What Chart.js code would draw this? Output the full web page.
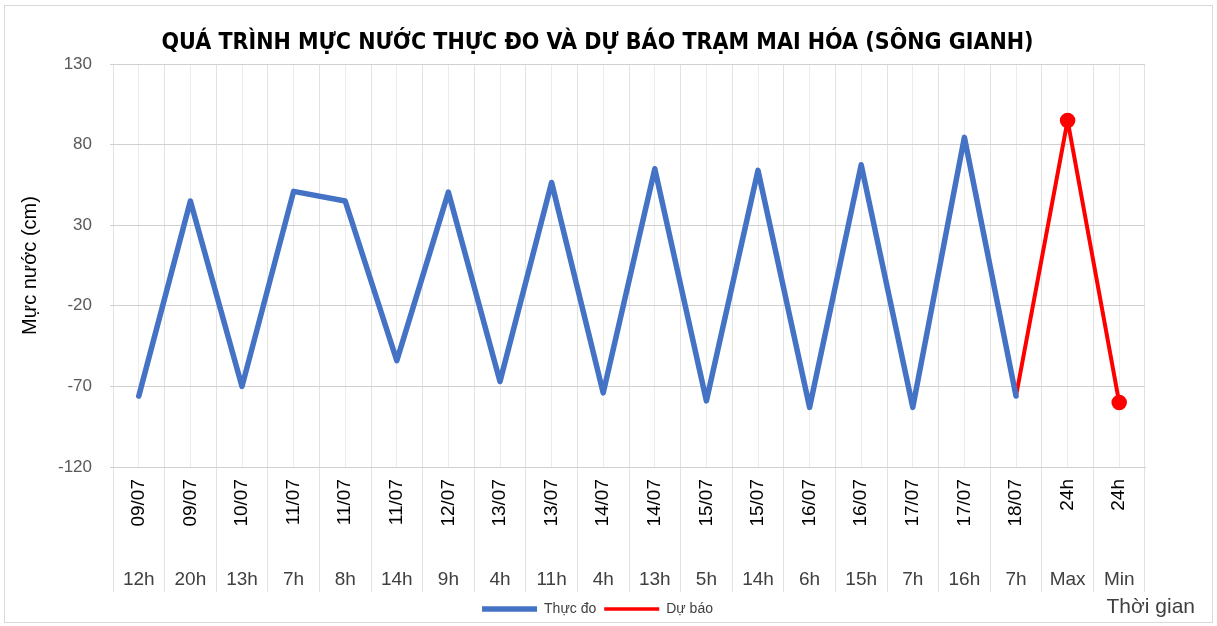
<!DOCTYPE html>
<html>
<head>
<meta charset="utf-8">
<script src="https://cdn.jsdelivr.net/npm/chart.js@4.4.1/dist/chart.umd.min.js"></script>
<style>
  html, body { margin: 0; padding: 0; background: #ffffff; }
  #wrap { position: relative; width: 1217px; height: 626px; }
  #frame { position: absolute; left: 4px; top: 5px; right: 4px; bottom: 3px; border: 1px solid #d9d9d9; }
  canvas { position: absolute; left: 0; top: 0; }
</style>
</head>
<body>
<div id="wrap">
  <div id="frame"></div>
  <canvas id="c" width="1217" height="626"></canvas>
</div>
<script>
// ---- data ----
const dateLabels = ['09/07','09/07','10/07','11/07','11/07','11/07','12/07','13/07','13/07','14/07','14/07','15/07','15/07','16/07','16/07','17/07','17/07','18/07','24h','24h'];
const hourLabels = ['12h','20h','13h','7h','8h','14h','9h','4h','11h','4h','13h','5h','14h','6h','15h','7h','16h','7h','Max','Min'];
const thucDo = [-76, 45, -70, 51, 45, -54, 50.5, -67, 56.5, -74, 65, -79, 64, -83, 67.5, -83, 84.5, -76, null, null];
const duBao  = [null, null, null, null, null, null, null, null, null, null, null, null, null, null, null, null, null, -76, 95, -80];
const yTicks = [-120, -70, -20, 30, 80, 130];

const FONT = '"Liberation Sans", Arial, sans-serif';
const TXT = '#595959';

new Chart(document.getElementById('c'), {
  type: 'line',
  data: {
    labels: dateLabels,
    datasets: [
      {
        label: 'Thực đo',
        data: thucDo,
        borderColor: '#4472C4',
        backgroundColor: '#4472C4',
        borderWidth: 5.5,
        pointRadius: 0,
        pointHoverRadius: 0,
        pointBorderWidth: 5.5,
        pointBorderColor: '#4472C4',
        borderJoinStyle: 'round',
        borderCapStyle: 'round',
        tension: 0,
        xAxisID: 'x',
        yAxisID: 'y'
      },
      {
        label: 'Dự báo',
        data: duBao,
        borderColor: '#FF0000',
        backgroundColor: '#FF0000',
        borderWidth: 4,
        pointRadius: duBao.map((v, i) => (i >= 18 ? 6 : 0)),
        pointHoverRadius: 0,
        pointBackgroundColor: '#FF0000',
        pointBorderColor: '#FF0000',
        pointBorderWidth: 3.5,
        borderJoinStyle: 'round',
        borderCapStyle: 'round',
        tension: 0,
        xAxisID: 'x',
        yAxisID: 'y'
      }
    ]
  },
  options: {
    responsive: false,
    animation: false,
    devicePixelRatio: 1,
    layout: { padding: { left: 0, right: 22, top: 0, bottom: 0 } },
    plugins: {
      tooltip: { enabled: false },
      title: {
        display: true,
        text: 'QUÁ TRÌNH MỰC NƯỚC THỰC ĐO VÀ DỰ BÁO TRẠM MAI HÓA (SÔNG GIANH)',
        color: '#000000',
        font: { family: '"Liberation Sans Narrow", "DejaVu Sans Condensed", sans-serif', size: 23, weight: 'bold' },
        padding: { top: 29, bottom: 7.4 }
      },
      legend: {
        display: true,
        position: 'bottom',
        labels: {
          usePointStyle: true,
          pointStyle: 'line',
          pointStyleWidth: 55,
          boxHeight: 6,
          color: '#404040',
          font: { family: FONT, size: 14 },
          padding: 8
        }
      },
      subtitle: {
        display: true,
        position: 'bottom',
        align: 'end',
        text: 'Thời gian',
        color: '#404040',
        font: { family: FONT, size: 21 },
        padding: { top: -31, bottom: 5.8 }
      }
    },
    scales: {
      x: {
        type: 'category',
        position: 'bottom',
        offset: true,
        afterFit: (s) => { s.height = 65; },
        grid: {
          offset: true,
          display: true,
          drawOnChartArea: true,
          drawTicks: true,
          tickLength: 125,
          color: '#e2e2e2',
          lineWidth: 1
        },
        border: { display: true, color: '#d0d0d0' },
        ticks: {
          autoSkip: false,
          minRotation: 90,
          maxRotation: 90,
          padding: -113,
          color: '#000000',
          font: { family: FONT, size: 19 }
        }
      },
      x2: {
        type: 'category',
        position: 'bottom',
        labels: hourLabels,
        offset: true,
        afterFit: (s) => { s.height = 62; },
        grid: {
          offset: false,
          display: true,
          drawOnChartArea: true,
          drawTicks: false,
          color: '#ececec'
        },
        border: { display: false },
        ticks: {
          autoSkip: false,
          maxRotation: 0,
          minRotation: 0,
          padding: 36,
          color: '#404040',
          font: { family: FONT, size: 19 }
        }
      },
      y: {
        type: 'linear',
        position: 'left',
        min: -120,
        max: 130,
        afterBuildTicks: (s) => { s.ticks = yTicks.map(v => ({ value: v })); },
        afterFit: (s) => { s.width = 113; },
        grid: { color: '#d0d0d0', drawTicks: true, tickLength: 3 },
        border: { display: false },
        ticks: {
          padding: 18,
          color: TXT,
          font: { family: FONT, size: 17 }
        },
        title: {
          display: true,
          text: 'Mực nước (cm)',
          color: '#000000',
          font: { family: FONT, size: 20 },
          padding: { top: 18, bottom: 0 }
        }
      },
      yR: {
        type: 'linear',
        position: 'right',
        display: true,
        grid: { display: false, drawOnChartArea: false },
        border: { display: false },
        ticks: { display: false },
        afterFit: (s) => { s.width = 50; }
      }
    }
  }
});
</script>
</body>
</html>
